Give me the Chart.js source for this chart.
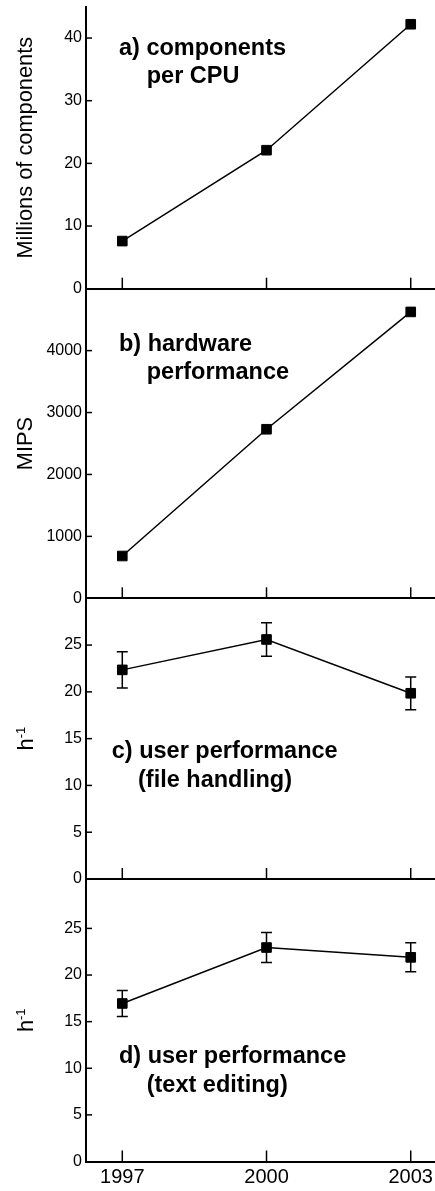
<!DOCTYPE html>
<html><head><meta charset="utf-8">
<script src="https://cdn.jsdelivr.net/npm/chart.js@4.4.0/dist/chart.umd.min.js"></script>
<style>html,body{margin:0;padding:0;background:#fff;}#wrap{width:435px;height:1191px;position:relative;}</style>
</head><body><div id="wrap"><canvas id="c" width="435" height="1191"></canvas></div>
<script>
// ---- data ----
const years = [1997, 2000, 2003];
const components = [7.6, 22.1, 42.2];
const mips = [683, 2730, 4625];
const fileHandling = [22.35, 25.6, 19.85];
const fileHandlingErr = [1.95, 1.8, 1.75];
const textEditing = [16.95, 22.95, 21.9];
const textEditingErr = [1.4, 1.6, 1.55];
const ticksA = [0, 10, 20, 30, 40];
const ticksB = [0, 1000, 2000, 3000, 4000];
const ticksC = [0, 5, 10, 15, 20, 25];
const ticksD = [0, 5, 10, 15, 20, 25];
const yTitles = ['Millions of components', 'MIPS', 'h', 'h'];
const panelLabels = [['a) components', 'per CPU'], ['b) hardware', 'performance'],
                     ['c) user performance', '(file handling)'], ['d) user performance', '(text editing)']];

// ---- layout/config ----
const FONT = "'Liberation Sans', Arial, sans-serif";
const panelIds = ['yA', 'yB', 'yC', 'yD'];
const series = [components, mips, fileHandling, textEditing];
const errs = [null, null, fileHandlingErr, textEditingErr];
const tickSets = [ticksA, ticksB, ticksC, ticksD];
const maxes = [45, 5000, 30, 30.3];
const weights = [282, 309.6, 280.7, 282.5];
// label anchors in data coordinates: [x1, y1, x2, y2]
const labelAnchors = [
  [1996.931, 37.29, 1997.508, 32.78],
  [1996.931, 3999, 1997.508, 3537],
  [1996.78, 12.9, 1997.327, 9.83],
  [1996.931, 10.53, 1997.508, 7.42]
];

function yScale(i) {
  return {
    type: 'linear', position: 'left', stack: 'panels', stackWeight: weights[i], weight: 4 - i,
    min: 0, max: maxes[i],
    afterBuildTicks: s => { s.ticks = tickSets[i].map(v => ({value: v})); },
    afterFit: s => { s.width = 86; s.paddingTop = 0; s.paddingBottom = 0; },
    ticks: {color: '#000', font: {family: FONT, size: 16}, padding: 4, autoSkip: false,
            callback: v => String(v)},
    grid: {drawTicks: false, lineWidth: 2,
           color: c => (c.tick && c.tick.value === 0) ? '#000' : 'rgba(0,0,0,0)'},
    border: {display: true, color: '#000', width: 2},
    title: {display: i < 2, text: yTitles[i], color: '#000', font: {family: FONT, size: 21.8},
            padding: {top: 13, bottom: 0}}
  };
}

const scales = {
  x: {
    type: 'linear', position: 'bottom', min: 1996.245, max: 2003.505,
    afterBuildTicks: s => { s.ticks = years.map(v => ({value: v})); },
    afterFit: s => { s.height = 29.5; s.paddingLeft = 0; s.paddingRight = 0; },
    ticks: {color: '#000', font: {family: FONT, size: 20}, padding: 4, maxRotation: 0, autoSkip: false,
            callback: v => String(v)},
    grid: {display: false, drawTicks: false},
    border: {display: false}
  }
};
panelIds.forEach((id, i) => { scales[id] = yScale(i); });

const decor = {
  id: 'decor',
  afterDatasetsDraw(chart) {
    const ctx = chart.ctx, xs = chart.scales.x, area = chart.chartArea;
    ctx.save();
    ctx.strokeStyle = '#000'; ctx.fillStyle = '#000';
    panelIds.forEach((id, i) => {
      const ys = chart.scales[id];
      ctx.lineWidth = 1.5;
      // inward y tick marks
      tickSets[i].forEach(v => {
        if (v === 0) return;
        const py = ys.getPixelForValue(v);
        ctx.beginPath(); ctx.moveTo(area.left, py); ctx.lineTo(area.left + 6, py); ctx.stroke();
      });
      // inward x tick marks
      years.forEach(yr => {
        const px = xs.getPixelForValue(yr);
        ctx.beginPath(); ctx.moveTo(px, ys.bottom); ctx.lineTo(px, ys.bottom - 11); ctx.stroke();
      });
      // error bars
      if (errs[i]) {
        series[i].forEach((v, j) => {
          const px = xs.getPixelForValue(years[j]);
          const pt = ys.getPixelForValue(v + errs[i][j]);
          const pb = ys.getPixelForValue(v - errs[i][j]);
          ctx.beginPath();
          ctx.moveTo(px, pt); ctx.lineTo(px, pb);
          ctx.moveTo(px - 5.5, pt); ctx.lineTo(px + 5.5, pt);
          ctx.moveTo(px - 5.5, pb); ctx.lineTo(px + 5.5, pb);
          ctx.stroke();
        });
      }
      // panel labels
      const a = labelAnchors[i];
      ctx.font = 'bold 23.5px ' + FONT;
      ctx.textAlign = 'left'; ctx.textBaseline = 'alphabetic';
      ctx.fillText(panelLabels[i][0], xs.getPixelForValue(a[0]), ys.getPixelForValue(a[1]));
      ctx.fillText(panelLabels[i][1], xs.getPixelForValue(a[2]), ys.getPixelForValue(a[3]));
      // h^-1 titles
      if (i >= 2) {
        const cy = (ys.top + ys.bottom) / 2;
        ctx.save();
        ctx.translate(33.3, cy);
        ctx.rotate(-Math.PI / 2);
        ctx.font = '21.8px ' + FONT;
        const w1 = ctx.measureText(yTitles[i]).width;
        ctx.font = '13px ' + FONT;
        const w2 = ctx.measureText('-1').width;
        const x0 = -(w1 + w2) / 2;
        ctx.font = '21.8px ' + FONT;
        ctx.fillText(yTitles[i], x0, 0);
        ctx.font = '13px ' + FONT;
        ctx.fillText('-1', x0 + w1, -8);
        ctx.restore();
      }
    });
    ctx.restore();
  }
};

new Chart(document.getElementById('c'), {
  type: 'line',
  data: {
    datasets: series.map((vals, i) => ({
      data: years.map((yr, j) => ({x: yr, y: vals[j]})),
      yAxisID: panelIds[i],
      borderColor: '#000', borderWidth: 1.5, tension: 0, fill: false,
      pointStyle: 'rect', pointRadius: 6.8, pointHoverRadius: 6.8,
      pointBackgroundColor: '#000', pointBorderColor: '#000', pointBorderWidth: 1
    }))
  },
  options: {
    responsive: false, animation: false, devicePixelRatio: 1,
    layout: {autoPadding: false, padding: {top: 6.7, left: 0, right: 0, bottom: 0}},
    plugins: {legend: {display: false}, tooltip: {enabled: false}},
    scales: scales
  },
  plugins: [decor]
});
</script>
</body></html>
